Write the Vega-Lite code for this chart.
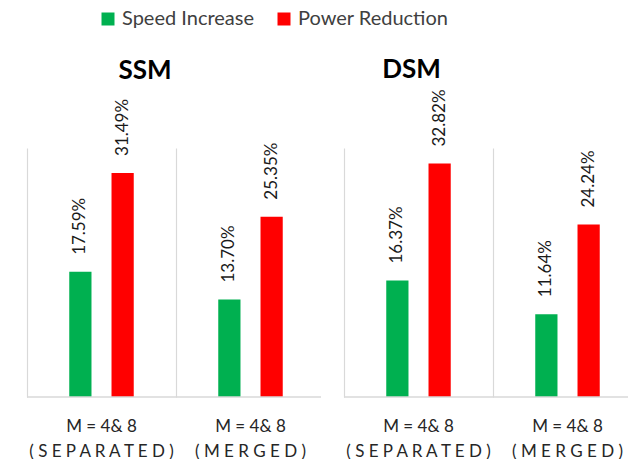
{
  "$schema": "https://vega.github.io/schema/vega-lite/v6.json",
  "background": "white",
  "padding": {"left": 26, "top": 9, "right": 0, "bottom": 0},
  "bounds": "flush",
  "config": {"view": {"stroke": null}, "font": "Lato", "concat": {"spacing": 23}},
  "datasets": {
    "d": [
      {"model": "SSM", "group": "M = 4& 8|( S E P A R A T E D )", "series": "Speed Increase", "value": 17.59, "label": "17.59%"},
      {"model": "SSM", "group": "M = 4& 8|( S E P A R A T E D )", "series": "Power Reduction", "value": 31.49, "label": "31.49%"},
      {"model": "SSM", "group": "M = 4& 8|( M E R G E D )", "series": "Speed Increase", "value": 13.70, "label": "13.70%"},
      {"model": "SSM", "group": "M = 4& 8|( M E R G E D )", "series": "Power Reduction", "value": 25.35, "label": "25.35%"},
      {"model": "DSM", "group": "M = 4& 8|( S E P A R A T E D )", "series": "Speed Increase", "value": 16.37, "label": "16.37%"},
      {"model": "DSM", "group": "M = 4& 8|( S E P A R A T E D )", "series": "Power Reduction", "value": 32.82, "label": "32.82%"},
      {"model": "DSM", "group": "M = 4& 8|( M E R G E D )", "series": "Speed Increase", "value": 11.64, "label": "11.64%"},
      {"model": "DSM", "group": "M = 4& 8|( M E R G E D )", "series": "Power Reduction", "value": 24.24, "label": "24.24%"}
    ],
    "base": [{"v": 0}]
  },
  "resolve": {"scale": {"color": "shared"}},
  "hconcat": [
    {
      "width": 294,
      "height": 249,
      "title": {"text": "SSM", "fontSize": 26, "fontWeight": "bold", "color": "#000000", "frame": "group", "anchor": "middle", "dx": -29, "offset": 15},
      "layer": [
        {
          "data": {"name": "d"},
          "transform": [{"filter": "datum.model === 'SSM'"}],
          "mark": {"type": "bar"},
          "encoding": {
            "x": {"field": "group", "type": "nominal", "sort": null,
              "scale": {"range": [0, 298], "paddingInner": 0, "paddingOuter": 0},
              "axis": {"title": null, "labelAngle": 0, "grid": true, "bandPosition": 0, "gridColor": "#d9d9d9", "gridWidth": 1.2, "ticks": false, "domain": false,
                "labelExpr": "split(datum.label, '|')", "labelFontSize": 17, "labelColor": "#262626", "labelPadding": 21, "labelLineHeight": 25, "labelBaseline": "top"}},
            "xOffset": {"field": "series", "type": "nominal", "sort": ["Speed Increase", "Power Reduction"], "scale": {"paddingInner": 0.474, "paddingOuter": 1.2}},
            "y": {"field": "value", "type": "quantitative", "scale": {"domain": [0, 35]}, "axis": null},
            "color": {"field": "series", "type": "nominal", "sort": ["Speed Increase", "Power Reduction"],
              "scale": {"domain": ["Speed Increase", "Power Reduction"], "range": ["#00B050", "#FF0000"]},
              "legend": {"orient": "none", "legendX": 71, "legendY": -139, "direction": "horizontal", "title": null, "symbolType": "square", "symbolSize": 169, "symbolStrokeWidth": 0, "labelFontSize": 20, "labelColor": "#404040", "labelOffset": 4, "columnPadding": 19}}
          }
        },
        {
          "data": {"name": "d"},
          "transform": [{"filter": "datum.model === 'SSM'"}],
          "mark": {"type": "text", "angle": 270, "align": "left", "baseline": "middle", "dx": 17, "fontSize": 17, "color": "#1a1a1a"},
          "encoding": {
            "x": {"field": "group", "type": "nominal", "sort": null},
            "xOffset": {"field": "series", "type": "nominal", "sort": ["Speed Increase", "Power Reduction"]},
            "y": {"field": "value", "type": "quantitative"},
            "text": {"field": "label"}
          }
        },
        {
          "data": {"name": "base"},
          "mark": {"type": "rule", "color": "#d9d9d9", "strokeWidth": 1.5},
          "encoding": {"y": {"field": "v", "type": "quantitative"}}
        }
      ]
    },
    {
      "width": 285,
      "height": 249,
      "title": {"text": "DSM", "fontSize": 26, "fontWeight": "bold", "color": "#000000", "frame": "group", "anchor": "middle", "dx": -75, "offset": 6},
      "layer": [
        {
          "data": {"name": "d"},
          "transform": [{"filter": "datum.model === 'DSM'"}],
          "mark": {"type": "bar"},
          "encoding": {
            "x": {"field": "group", "type": "nominal", "sort": null,
              "scale": {"range": [0, 298], "paddingInner": 0, "paddingOuter": 0},
              "axis": {"title": null, "labelAngle": 0, "grid": true, "bandPosition": 0, "gridColor": "#d9d9d9", "gridWidth": 1.2, "ticks": false, "domain": false,
                "labelExpr": "split(datum.label, '|')", "labelFontSize": 17, "labelColor": "#262626", "labelPadding": 21, "labelLineHeight": 25, "labelBaseline": "top"}},
            "xOffset": {"field": "series", "type": "nominal", "sort": ["Speed Increase", "Power Reduction"], "scale": {"paddingInner": 0.474, "paddingOuter": 1.2}},
            "y": {"field": "value", "type": "quantitative", "scale": {"domain": [0, 35]}, "axis": null},
            "color": {"field": "series", "type": "nominal", "sort": ["Speed Increase", "Power Reduction"],
              "scale": {"domain": ["Speed Increase", "Power Reduction"], "range": ["#00B050", "#FF0000"]},
              "legend": {"orient": "none", "legendX": 71, "legendY": -139, "direction": "horizontal", "title": null, "symbolType": "square", "symbolSize": 169, "symbolStrokeWidth": 0, "labelFontSize": 20, "labelColor": "#404040", "labelOffset": 4, "columnPadding": 19}}
          }
        },
        {
          "data": {"name": "d"},
          "transform": [{"filter": "datum.model === 'DSM'"}],
          "mark": {"type": "text", "angle": 270, "align": "left", "baseline": "middle", "dx": 17, "fontSize": 17, "color": "#1a1a1a"},
          "encoding": {
            "x": {"field": "group", "type": "nominal", "sort": null},
            "xOffset": {"field": "series", "type": "nominal", "sort": ["Speed Increase", "Power Reduction"]},
            "y": {"field": "value", "type": "quantitative"},
            "text": {"field": "label"}
          }
        },
        {
          "data": {"name": "base"},
          "mark": {"type": "rule", "color": "#d9d9d9", "strokeWidth": 1.5},
          "encoding": {"y": {"field": "v", "type": "quantitative"}}
        }
      ]
    }
  ]
}
